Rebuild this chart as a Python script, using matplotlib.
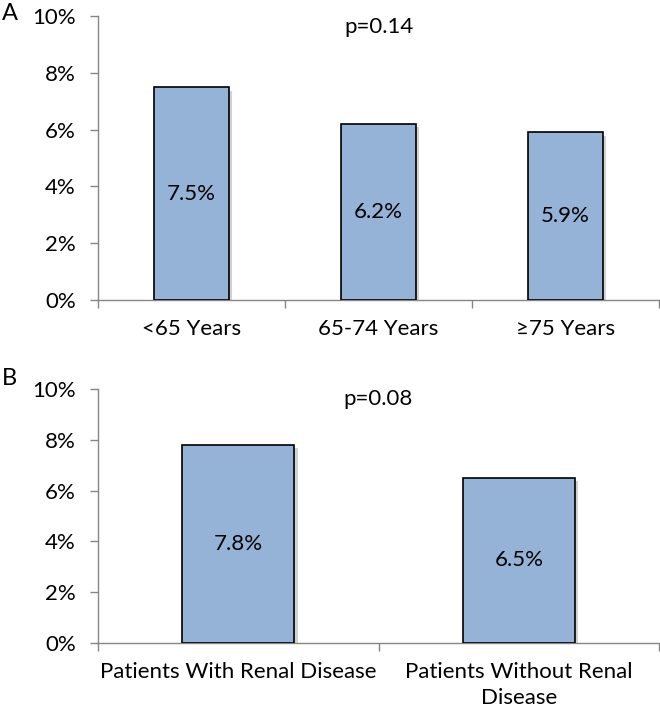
import matplotlib
matplotlib.use('Agg')
import matplotlib.pyplot as plt
import matplotlib.patheffects as pe
from matplotlib.ticker import FuncFormatter

plt.rcParams['font.family'] = ['Lato', 'DejaVu Sans']

# panel A: by age
age_groups = ['<65 Years', '65-74 Years', '\u226575 Years']
age_rates = [7.5, 6.2, 5.9]
age_p = 'p=0.14'

# panel B: by renal disease
renal_groups = ['Patients With Renal Disease', 'Patients Without Renal\nDisease']
renal_rates = [7.8, 6.5]
renal_p = 'p=0.08'

bar_color = '#95B3D7'
axis_color = '#868686'
fs = 16


def draw_panel(ax, groups, rates, ptext):
  n = len(groups)
  xs = list(range(n))
  bars = ax.bar(xs, rates, width=0.4, color=bar_color, edgecolor='black', linewidth=1.2, zorder=3)
  for b in bars:
    b.set_path_effects([pe.SimplePatchShadow(offset=(2.5, -2.5), shadow_rgbFace='#999999', alpha=0.45), pe.Normal()])
  for x, v in zip(xs, rates):
    ax.text(x, v / 2, '%.1f%%' % v, ha='center', va='center', fontsize=fs, zorder=4)
  ax.set_xlim(-0.5, n - 0.5)
  ax.set_ylim(0, 10)
  ax.set_yticks([0, 2, 4, 6, 8, 10])
  ax.yaxis.set_major_formatter(FuncFormatter(lambda v, pos: '%d%%' % v))
  ax.set_xticks(xs)
  ax.set_xticklabels(groups, linespacing=1.35)
  ax.set_xticks([i - 0.5 for i in range(n + 1)], minor=True)
  ax.tick_params(axis='x', which='major', length=0, pad=14, labelsize=fs)
  ax.tick_params(axis='x', which='minor', length=6, width=1, color=axis_color)
  ax.tick_params(axis='y', length=6, width=1, color=axis_color, pad=10, labelsize=fs)
  for s in ['top', 'right']:
    ax.spines[s].set_visible(False)
  for s in ['left', 'bottom']:
    ax.spines[s].set_color(axis_color)
    ax.spines[s].set_linewidth(1)
  ax.text((n - 1) / 2, 9.6, ptext, ha='center', va='center', fontsize=fs)


fig = plt.figure(figsize=(6.6, 7.13), dpi=100)
ax1 = fig.add_axes([0.1485, 0.5792, 0.85, 0.3983])
ax2 = fig.add_axes([0.1485, 0.0982, 0.85, 0.3562])

draw_panel(ax1, age_groups, age_rates, age_p)
draw_panel(ax2, renal_groups, renal_rates, renal_p)

fig.text(0.003, 1 - 13 / 713, 'A', fontsize=17, va='center', ha='left')
fig.text(0.003, 1 - 378 / 713, 'B', fontsize=17, va='center', ha='left')

fig.savefig('out.png', dpi=100)
